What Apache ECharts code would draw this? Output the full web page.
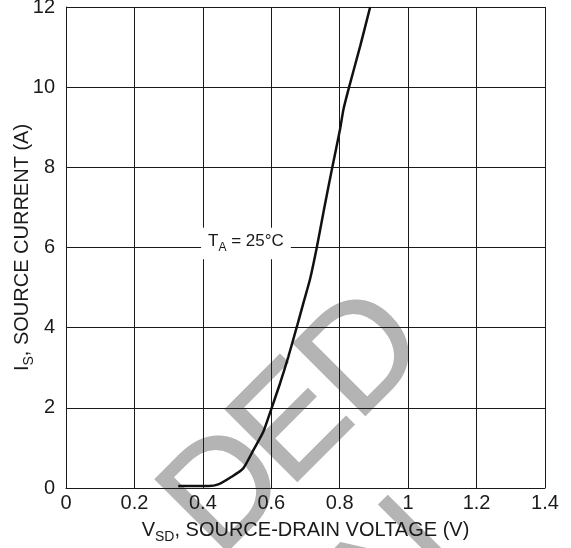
<!DOCTYPE html>
<html>
<head>
<meta charset="utf-8">
<script src="https://cdn.jsdelivr.net/npm/echarts@6/dist/echarts.min.js"></script>
<style>
  html, body { margin: 0; padding: 0; background: #fff; }
  #chart { width: 571px; height: 548px; }
</style>
</head>
<body>
<div id="chart"></div>
<script>
// source-drain diode forward curve
var vsd = [0.328, 0.416, 0.445, 0.484, 0.518, 0.548, 0.577, 0.596, 0.626, 0.650, 0.675,
           0.694, 0.713, 0.733, 0.754, 0.779, 0.801, 0.811, 0.827, 0.860, 0.889]
var isrc = [0.05, 0.05, 0.09, 0.28, 0.49, 0.95, 1.41, 1.87, 2.62, 3.28, 4.03,
            4.62, 5.2, 6.0, 6.95, 8.03, 8.95, 9.45, 9.99, 11.03, 12.0]
var xTicks = [0, 0.2, 0.4, 0.6, 0.8, 1, 1.2, 1.4]
var yTicks = [0, 2, 4, 6, 8, 10, 12]
var labelPos = [0.526, 6.1] // T_A note

var font = 'Liberation Sans, Arial, sans-serif'
var ink = '#1a1a1a'

var points = vsd.map(function (v, i) { return [v, isrc[i]] })

// main text + lowered subscript: sub sits at the bottom of a taller line box
function subRich (size, subSize, drop) {
  return {
    v: { fontSize: size, lineHeight: size, fontFamily: font, color: ink, verticalAlign: 'top' },
    s: { fontSize: subSize, lineHeight: size / 2 + drop + subSize / 2, fontFamily: font, color: ink, verticalAlign: 'bottom' }
  }
}

// watermark (partly off the page), letters along a 45 deg line
var wmLetters = [
  { ch: 'D', at: [190, 531] },
  { ch: 'E', at: [260, 461] },
  { ch: 'D', at: [328, 395] },
  { ch: 'N', at: [364, 606] } // second line, only its top shows
]
var watermark = wmLetters.map(function (l) {
  return {
    type: 'text',
    z: -10,
    silent: true,
    x: l.at[0],
    y: l.at[1],
    rotation: Math.PI / 4,
    style: {
      text: l.ch,
      fill: '#b4b4b4',
      stroke: '#b4b4b4',
      lineWidth: 1.5,
      font: '148px ' + font,
      align: 'left',
      verticalAlign: 'middle'
    }
  }
})

var chart = echarts.init(document.getElementById('chart'))
chart.setOption({
  animation: false,
  backgroundColor: '#fff',
  textStyle: { fontFamily: font, color: ink },
  grid: { left: 66, right: 26, top: 7, bottom: 60, outerBoundsMode: 'none' },
  graphic: watermark,
  xAxis: {
    type: 'value',
    min: xTicks[0],
    max: xTicks[xTicks.length - 1],
    interval: 0.2,
    name: '{v|V}{s|SD}{v|, SOURCE-DRAIN VOLTAGE (V)}',
    nameLocation: 'middle',
    nameGap: 32,
    nameMoveOverlap: false,
    nameTextStyle: { rich: subRich(20, 14, 7) },
    axisLine: { lineStyle: { color: ink, width: 1 } },
    axisTick: { show: false },
    axisLabel: { fontSize: 20, color: ink, margin: 5 },
    splitLine: { show: true, lineStyle: { color: ink, width: 1 } }
  },
  yAxis: {
    type: 'value',
    min: yTicks[0],
    max: yTicks[yTicks.length - 1],
    interval: 2,
    name: '{v|I}{s|S}{v|, SOURCE CURRENT (A)}',
    nameLocation: 'middle',
    nameRotate: 90,
    nameGap: 30,
    nameMoveOverlap: false,
    nameTextStyle: { rich: subRich(20, 14, 7) },
    axisLine: { show: true, lineStyle: { color: ink, width: 1 } },
    axisTick: { show: false },
    axisLabel: { fontSize: 20, color: ink, margin: 11, padding: [6, 0, 0, 0] },
    splitLine: { show: true, lineStyle: { color: ink, width: 1 } }
  },
  series: [{
    type: 'line',
    data: points,
    showSymbol: false,
    smooth: 0.2,
    lineStyle: { color: '#111', width: 2.5 },
    markPoint: {
      symbol: 'rect',
      symbolSize: 1,
      itemStyle: { color: 'rgba(0,0,0,0)' },
      label: {
        show: true,
        position: 'inside',
        backgroundColor: '#fff',
        padding: [5, 7, 6, 7],
        formatter: '{v|T}{s|A}{v| = 25°C}',
        rich: subRich(17, 12, 6)
      },
      data: [{ coord: labelPos }]
    }
  }]
})
</script>
</body>
</html>
